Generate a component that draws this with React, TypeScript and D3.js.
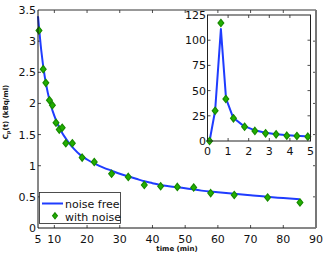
import { useMemo } from 'react';
import * as d3 from 'd3';

// noise-free curve, main panel (time in min, kBq/ml)
const CURVE_T = [5, 6, 7, 8, 9, 10, 11, 12, 14, 16, 18, 20, 22.5, 25, 27.5, 30, 32.5, 35, 37.5, 40, 42.5, 45, 50, 55, 60, 65, 70, 75, 80, 85];
const CURVE_V = [3.4, 2.85, 2.45, 2.17, 1.96, 1.8, 1.67, 1.56, 1.4, 1.27, 1.17, 1.1, 1.03, 0.97, 0.92, 0.87, 0.83, 0.79, 0.75, 0.72, 0.69, 0.67, 0.64, 0.6, 0.575, 0.55, 0.525, 0.5, 0.48, 0.46];

// noisy samples, main panel
const NOISY_T = [5.3, 6.6, 7.4, 8.5, 9.4, 10.5, 11.5, 12.4, 13.5, 15.5, 18.5, 22.2, 27.5, 32.6, 37.5, 42.5, 47.6, 52.6, 57.8, 65, 75.2, 85.1];
const NOISY_V = [3.17, 2.55, 2.33, 2.05, 1.97, 1.69, 1.58, 1.61, 1.36, 1.36, 1.13, 1.06, 0.87, 0.82, 0.69, 0.67, 0.66, 0.65, 0.56, 0.53, 0.49, 0.41];

// inset (first 5 min)
const INSET_CURVE_T = [0.1, 0.37, 0.65, 0.9, 1.25, 1.75, 2.25, 2.75, 3.25, 3.75, 4.25, 4.75];
const INSET_CURVE_V = [0, 30, 111, 42, 23, 15, 11, 8.5, 7, 6, 5.2, 4.6];
const INSET_NOISY_T = [0.1, 0.37, 0.65, 0.89, 1.26, 1.8, 2.3, 2.82, 3.33, 3.85, 4.34, 4.87];
const INSET_NOISY_V = [0, 30, 117, 41.7, 22.5, 14.2, 10, 7.6, 6.6, 5.3, 5, 4.3];

const X_TICKS = [5, 10, 20, 30, 40, 50, 60, 70, 80, 90];
const Y_TICKS = [0, 0.5, 1, 1.5, 2, 2.5, 3, 3.5];
const IX_TICKS = [0, 1, 2, 3, 4, 5];
const IY_TICKS = [0, 25, 50, 75, 100, 125];

const BLUE = '#1f3cff';
const GREEN = '#22b000';
const GREEN_EDGE = '#178a00';
const FONT = 'DejaVu Sans, sans-serif';

function Diamond({ x, y, r = 3.6 }: { x: number; y: number; r?: number }) {
  return (
    <path
      d={`M${x},${y - r}L${x + r * 0.8},${y}L${x},${y + r}L${x - r * 0.8},${y}Z`}
      fill={GREEN}
      stroke={GREEN_EDGE}
      strokeWidth={1.2}
    />
  );
}

export default function App() {
  const x = useMemo(() => d3.scaleLinear().domain([5, 90]).range([38, 316]), []);
  const y = useMemo(() => d3.scaleLinear().domain([0, 3.5]).range([228, 10]), []);
  const ix = useMemo(() => d3.scaleLinear().domain([0, 5]).range([207.5, 310.5]), []);
  const iy = useMemo(() => d3.scaleLinear().domain([0, 125]).range([141, 15]), []);

  const mainLine = d3.line<number>().x((d, i) => x(CURVE_T[i])).y((d) => y(d)).curve(d3.curveMonotoneX)(CURVE_V) || '';
  const insetLine = d3.line<number>().x((d, i) => ix(INSET_CURVE_T[i])).y((d) => iy(d))(INSET_CURVE_V) || '';

  const [x0, x1] = x.range();
  const [y0, y1] = y.range();
  const [ix0, ix1] = ix.range();
  const [iy0, iy1] = iy.range();
  const tl = 3;

  return (
    <svg width={326} height={256} style={{ position: 'absolute', left: 0, top: 0, background: '#fff' }} fontFamily={FONT}>
      <rect width={326} height={256} fill="#fff" />
      {/* main axes ticks */}
      {X_TICKS.filter((t) => t !== 5 && t !== 90).map((t) => (
        <g key={'xt' + t} stroke="#222" strokeWidth={0.8}>
          <line x1={x(t)} x2={x(t)} y1={y0} y2={y0 - tl} />
          <line x1={x(t)} x2={x(t)} y1={y1} y2={y1 + tl} />
        </g>
      ))}
      {Y_TICKS.filter((t) => t !== 0 && t !== 3.5).map((t) => (
        <g key={'yt' + t} stroke="#222" strokeWidth={0.8}>
          <line x1={x0} x2={x0 + tl} y1={y(t)} y2={y(t)} />
          <line x1={x1} x2={x1 - tl} y1={y(t)} y2={y(t)} />
        </g>
      ))}
      {X_TICKS.map((t) => (
        <text key={'xl' + t} x={x(t)} y={243} fontSize={11} textAnchor="middle" fill="#111">{t}</text>
      ))}
      {Y_TICKS.map((t) => (
        <text key={'yl' + t} x={36} y={y(t) + 4} fontSize={11} textAnchor="end" fill="#111">{t}</text>
      ))}

      <path d={mainLine} fill="none" stroke={BLUE} strokeWidth={2} />
      {NOISY_T.map((t, i) => (
        <Diamond key={'n' + i} x={x(t)} y={y(NOISY_V[i])} />
      ))}

      {/* frame */}
      <line x1={x0} x2={x1} y1={y1} y2={y1} stroke="#333" strokeWidth={1} />
      <line x1={x0} x2={x0} y1={y1} y2={y0} stroke="#111" strokeWidth={1} />
      <line x1={x0} x2={x1} y1={y0} y2={y0} stroke="#111" strokeWidth={1} />
      <line x1={x1} x2={x1} y1={y1} y2={y0} stroke="#777" strokeWidth={2} />

      {/* axis labels */}
      <text x={177} y={251} fontSize={7} fontWeight="bold" textAnchor="middle" fill="#111">time (min)</text>
      <text transform="translate(8,112) rotate(-90)" fontSize={7} fontWeight="bold" textAnchor="middle" fill="#111">
        C<tspan fontSize={5} dy={2}>p</tspan><tspan dy={-2}>(t) (kBq/ml)</tspan>
      </text>

      {/* legend */}
      <rect x={39.5} y={192.5} width={81} height={31} fill="#fff" stroke="#222" strokeWidth={0.8} />
      <line x1={42} x2={63} y1={203.5} y2={203.5} stroke={BLUE} strokeWidth={2} />
      <text x={65} y={208} fontSize={11} fill="#111">noise free</text>
      <Diamond x={55} y={215.8} r={3} />
      <text x={65} y={220.5} fontSize={11} fill="#111">with noise</text>

      {/* inset */}
      <rect x={ix0} y={iy1} width={ix1 - ix0} height={iy0 - iy1} fill="#fff" />
      {IX_TICKS.filter((t) => t !== 0 && t !== 5).map((t) => (
        <g key={'ixt' + t} stroke="#222" strokeWidth={0.8}>
          <line x1={ix(t)} x2={ix(t)} y1={iy0} y2={iy0 - tl} />
          <line x1={ix(t)} x2={ix(t)} y1={iy1} y2={iy1 + tl} />
        </g>
      ))}
      {IY_TICKS.filter((t) => t !== 0 && t !== 125).map((t) => (
        <g key={'iyt' + t} stroke="#222" strokeWidth={0.8}>
          <line x1={ix0} x2={ix0 + tl} y1={iy(t)} y2={iy(t)} />
          <line x1={ix1} x2={ix1 - tl} y1={iy(t)} y2={iy(t)} />
        </g>
      ))}
      {IX_TICKS.map((t) => (
        <text key={'ixl' + t} x={ix(t)} y={155} fontSize={11} textAnchor="middle" fill="#111">{t}</text>
      ))}
      {IY_TICKS.map((t) => (
        <text key={'iyl' + t} x={206} y={iy(t) + 4} fontSize={11} textAnchor="end" fill="#111">{t}</text>
      ))}
      <path d={insetLine} fill="none" stroke={BLUE} strokeWidth={2} strokeLinejoin="round" />
      {INSET_NOISY_T.map((t, i) => (
        <Diamond key={'in' + i} x={ix(t)} y={iy(INSET_NOISY_V[i])} />
      ))}
      <rect x={ix0} y={iy1} width={ix1 - ix0} height={iy0 - iy1} fill="none" stroke="#222" strokeWidth={1} />
    </svg>
  );
}
